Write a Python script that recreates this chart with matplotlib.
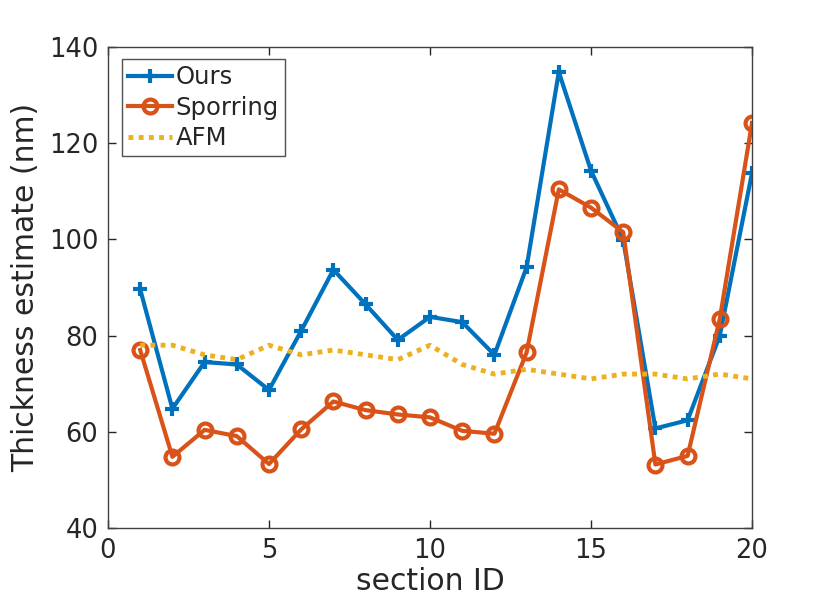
import matplotlib
matplotlib.use("Agg")
import matplotlib.pyplot as plt

# section IDs and thickness estimates (nm)
section_id = list(range(1, 21))
ours = [89.6, 64.8, 74.5, 74.0, 68.7, 81.0, 93.7, 86.5, 79.1, 83.9,
        82.8, 76.0, 94.2, 134.8, 114.3, 99.9, 60.7, 62.4, 80.0, 113.8]
sporring = [77.0, 54.8, 60.4, 59.1, 53.3, 60.5, 66.3, 64.5, 63.6, 63.0,
            60.2, 59.6, 76.5, 110.4, 106.6, 101.5, 53.2, 55.0, 83.5, 124.2]
afm = [78, 78, 76, 75, 78, 76, 77, 76, 75, 78,
       74, 72, 73, 72, 71, 72, 72, 71, 72, 71]

C_OURS = "#0072BD"
C_SPOR = "#D95319"
C_AFM = "#EDB120"
TXT = "#262626"

plt.rcParams["font.family"] = "DejaVu Sans"

fig = plt.figure(figsize=(8.31, 6.08), dpi=100)
ax = fig.add_axes([108 / 831, 1 - 528 / 608, (752 - 108) / 831, (528 - 47) / 608])

ax.plot(section_id, ours, color=C_OURS, lw=3, marker="+", ms=10, mew=3,
        label="Ours")
ax.plot(section_id, sporring, color=C_SPOR, lw=3, marker="o", ms=10, mew=3,
        mfc="none", label="Sporring")
ax.plot(section_id, afm, color=C_AFM, lw=3.5, ls=(0, (1, 1.1)), label="AFM")

ax.set_xlim(0, 20)
ax.set_ylim(40, 140)
ax.set_xticks([0, 5, 10, 15, 20])
ax.set_yticks(range(40, 141, 20))

ax.tick_params(direction="in", length=6, width=1, colors=TXT, labelsize=18.5,
               top=True, right=True, pad=7)
for s in ax.spines.values():
    s.set_color("#404040")
    s.set_linewidth(1)

ax.set_xlabel("section ID", fontsize=21.5, color=TXT, labelpad=2)
ax.set_ylabel("Thickness estimate (nm)", fontsize=21.5, color=TXT, labelpad=6)

leg = ax.legend(loc="upper left", bbox_to_anchor=(14 / 644, 1 - 12 / 481),
                fontsize=17.5, frameon=True, fancybox=False, handlelength=1.8,
                borderpad=0.25, labelspacing=0.27, handletextpad=0.15,
                borderaxespad=0)
leg.get_frame().set_edgecolor("#262626")
leg.get_frame().set_linewidth(1)
for t in leg.get_texts():
    t.set_color(TXT)

fig.savefig("out.png", dpi=100)
